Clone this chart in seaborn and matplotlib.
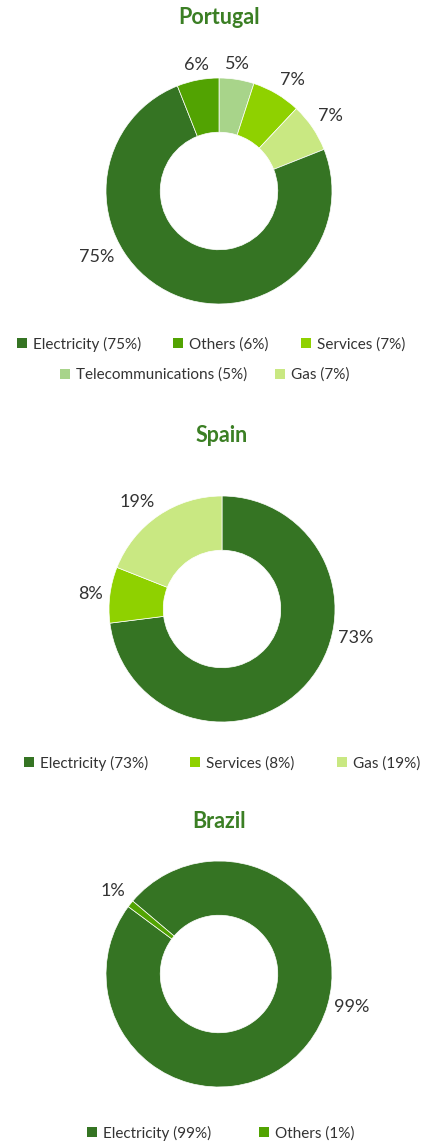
import numpy as np
import matplotlib
matplotlib.use("Agg")
import matplotlib.pyplot as plt
from matplotlib.patches import Patch
import seaborn as sns

sns.set_theme(style="white")
plt.rcParams["font.family"] = ["Lato", "DejaVu Sans"]

# ---- data -------------------------------------------------------------
countries = ["Portugal", "Spain", "Brazil"]

# slices in drawing order (clockwise)
portugal_labels = ["Telecommunications", "Services", "Gas", "Electricity", "Others"]
portugal_values = [5, 7, 7, 75, 6]

spain_labels = ["Electricity", "Services", "Gas"]
spain_values = [73, 8, 19]

brazil_labels = ["Electricity", "Others"]
brazil_values = [99, 1]

# ---- style ------------------------------------------------------------
colors = {
    "Electricity": "#357423",
    "Others": "#52a302",
    "Services": "#8fd100",
    "Telecommunications": "#a8d48a",
    "Gas": "#c9e882",
}
title_color = "#3b7f24"
text_color = "#333333"

W, H = 428, 1145
DPI = 100
R_PX = 113          # outer radius in pixels
LIM = 1.35          # axis half-range in radius units

layout = {
    "Portugal": dict(center=(219, 191), start=90, title_y=17,
                     legend_rows=[(["Electricity", "Others", "Services"], 211, 344, 2.1),
                                  (["Telecommunications", "Gas"], 205, 375, 1.8)],
                     label_angle={"Electricity": 209}),
    "Spain": dict(center=(222, 609), start=90, title_y=435,
                  legend_rows=[(["Electricity", "Services", "Gas"], 222, 763, 2.75)],
                  label_angle={"Electricity": -14}),
    "Brazil": dict(center=(219, 974), start=139.8, title_y=821,
                   legend_rows=[(["Electricity", "Others"], 221, 1133, 3.1)],
                   label_angle={"Electricity": -16}),
}

series = {
    "Portugal": (portugal_labels, portugal_values),
    "Spain": (spain_labels, spain_values),
    "Brazil": (brazil_labels, brazil_values),
}

fig = plt.figure(figsize=(W / DPI, H / DPI), dpi=DPI)
fig.patch.set_facecolor("white")

size_px = 2 * LIM * R_PX
gap = 7 / R_PX  # label gap outside ring, in radius units

for country in countries:
    labels, values = series[country]
    lay = layout[country]
    cx, cy = lay["center"]
    ax = fig.add_axes([(cx - size_px / 2) / W, 1 - (cy + size_px / 2) / H,
                       size_px / W, size_px / H])
    wedges, _ = ax.pie(values, colors=[colors[l] for l in labels],
                       startangle=lay["start"], counterclock=False,
                       radius=1.0,
                       wedgeprops=dict(width=0.48, edgecolor="white", linewidth=0.5))
    ax.set_xlim(-LIM, LIM)
    ax.set_ylim(-LIM, LIM)
    ax.set_aspect("equal")
    ax.axis("off")

    for w, lab, val in zip(wedges, labels, values):
        ang = lay["label_angle"].get(lab, (w.theta1 + w.theta2) / 2)
        a = np.deg2rad(ang)
        c, s = np.cos(a), np.sin(a)
        ha = "left" if c > 0.3 else ("right" if c < -0.3 else "center")
        va = "bottom" if s > 0.3 else ("top" if s < -0.3 else "center")
        r = 1 + gap
        ax.text(r * c, r * s, f"{val}%", ha=ha, va=va, fontsize=13,
                color=text_color)

    fig.text(cx / W, 1 - lay["title_y"] / H, country, ha="center", va="center",
             fontsize=15.5, fontweight="bold", color=title_color)

    vals = dict(zip(labels, values))
    for items, lx, ly, spacing in lay["legend_rows"]:
        handles = [Patch(facecolor=colors[i], edgecolor="none",
                         label=f"{i} ({vals[i]}%)") for i in items]
        fig.legend(handles=handles, loc="center", ncol=len(items),
                   bbox_to_anchor=(lx / W, 1 - ly / H), frameon=False,
                   fontsize=11, handlelength=0.65, handleheight=0.65,
                   handletextpad=0.4, columnspacing=spacing,
                   labelcolor=text_color, borderaxespad=0, borderpad=0)

fig.savefig("out.png", dpi=DPI, facecolor="white")
